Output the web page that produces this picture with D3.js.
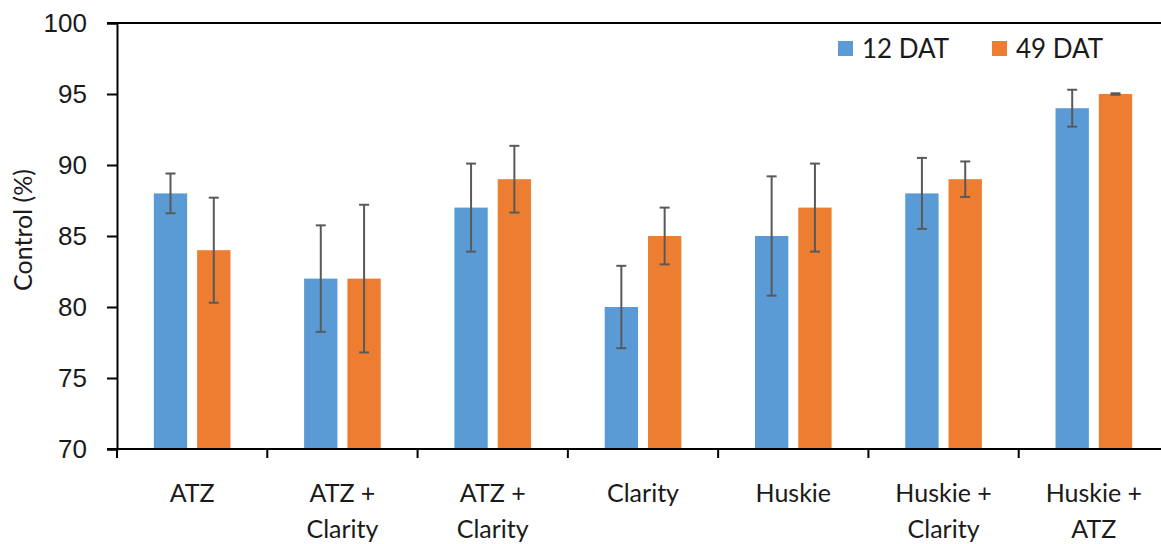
<!DOCTYPE html>
<html>
<head>
<meta charset="utf-8">
<script src="https://cdn.jsdelivr.net/npm/d3@7"></script>
<style>
  body { margin: 0; background: #fff; }
  svg { font-family: Lato, "Open Sans", sans-serif; }
</style>
</head>
<body>
<div id="chart"></div>
<script>
// data
const categories = ["ATZ", "ATZ +\nClarity", "ATZ +\nClarity", "Clarity", "Huskie", "Huskie +\nClarity", "Huskie +\nATZ"]
const series = ["12 DAT", "49 DAT"]
const dat12 = [88, 82, 87, 80, 85, 88, 94]
const dat49 = [84, 82, 89, 85, 87, 89, 95]
const err12 = [1.4, 3.75, 3.1, 2.9, 4.2, 2.5, 1.3]
const err49 = [3.7, 5.2, 2.35, 2.0, 3.1, 1.25, 0.05]
const yTicks = [70, 75, 80, 85, 90, 95, 100]
const colors = ["#5B9BD5", "#ED7D31"]

const width = 1161, height = 544
const plotLeft = 117, plotTop = 23, plotBottom = 449, plotRight = 1169

const svg = d3.select("#chart").append("svg")
    .attr("width", width)
    .attr("height", height)

const x0 = d3.scaleBand().domain(d3.range(categories.length)).range([plotLeft, plotRight])
const bw = x0.bandwidth()
const x1 = d3.scaleBand().domain(d3.range(series.length))
    .range([bw * 0.245, bw * 0.755]).paddingInner(0.23)
const y = d3.scaleLinear().domain([70, 100]).range([plotBottom, plotTop])

// bars + error bars
const rows = categories.map((c, i) => [
    { s: 0, v: dat12[i], e: err12[i] },
    { s: 1, v: dat49[i], e: err49[i] }
])
const groups = svg.selectAll("g.grp")
    .data(rows)
    .enter().append("g")
    .attr("class", "grp")
    .attr("transform", (d, i) => "translate(" + x0(i) + ",0)")

groups.selectAll("rect")
    .data(d => d)
    .enter().append("rect")
    .attr("x", d => x1(d.s))
    .attr("width", x1.bandwidth())
    .attr("y", d => y(d.v))
    .attr("height", d => y(70) - y(d.v))
    .attr("fill", d => colors[d.s])

const eb = groups.selectAll("g.err")
    .data(d => d)
    .enter().append("g")
    .attr("class", "err")
    .attr("stroke", "#595959")
    .attr("stroke-width", 2)
const cx = d => x1(d.s) + x1.bandwidth() / 2
eb.append("line")
    .attr("x1", cx).attr("x2", cx)
    .attr("y1", d => y(d.v + d.e)).attr("y2", d => y(d.v - d.e))
eb.append("line")
    .attr("x1", d => cx(d) - 5).attr("x2", d => cx(d) + 5)
    .attr("y1", d => y(d.v + d.e)).attr("y2", d => y(d.v + d.e))
eb.append("line")
    .attr("x1", d => cx(d) - 5).attr("x2", d => cx(d) + 5)
    .attr("y1", d => y(d.v - d.e)).attr("y2", d => y(d.v - d.e))

// y axis
const yAxis = svg.append("g")
    .attr("transform", "translate(" + plotLeft + ",0)")
    .call(d3.axisLeft(y).tickValues(yTicks).tickSize(10).tickPadding(20))
yAxis.select(".domain").attr("stroke", "#000").attr("stroke-width", 2)
yAxis.selectAll(".tick line").attr("stroke", "#000").attr("stroke-width", 2)
yAxis.selectAll("text").attr("font-size", 26).attr("fill", "#1a1a1a")

// top border
svg.append("line")
    .attr("x1", plotLeft - 10).attr("x2", width)
    .attr("y1", plotTop).attr("y2", plotTop)
    .attr("stroke", "#000").attr("stroke-width", 2)

// x axis
svg.append("line")
    .attr("x1", plotLeft - 10).attr("x2", width)
    .attr("y1", plotBottom).attr("y2", plotBottom)
    .attr("stroke", "#000").attr("stroke-width", 2)
svg.selectAll("line.xtick")
    .data(d3.range(categories.length + 1))
    .enter().append("line")
    .attr("class", "xtick")
    .attr("x1", i => plotLeft + i * bw).attr("x2", i => plotLeft + i * bw)
    .attr("y1", plotBottom).attr("y2", plotBottom + 9)
    .attr("stroke", "#000").attr("stroke-width", 2)

const xl = svg.selectAll("text.xl")
    .data(categories)
    .enter().append("text")
    .attr("class", "xl")
    .attr("text-anchor", "middle")
    .attr("font-size", 25)
    .attr("fill", "#1a1a1a")
    .attr("transform", (d, i) => "translate(" + (x0(i) + bw / 2) + "," + (plotBottom + 53) + ")")
xl.selectAll("tspan")
    .data(d => d.split("\n"))
    .enter().append("tspan")
    .attr("x", 0)
    .attr("dy", (d, j) => j === 0 ? 0 : 36)
    .text(d => d)

// y title
svg.append("text")
    .attr("transform", "translate(32,230) rotate(-90)")
    .attr("text-anchor", "middle")
    .attr("font-size", 25)
    .attr("fill", "#1a1a1a")
    .text("Control (%)")

// legend
const lg = svg.selectAll("g.lg")
    .data(series)
    .enter().append("g")
    .attr("class", "lg")
    .attr("transform", (d, i) => "translate(" + (838 + i * 154) + ",41)")
lg.append("rect").attr("width", 15).attr("height", 15).attr("fill", (d, i) => colors[i])
lg.append("text")
    .attr("x", 24).attr("y", 17)
    .attr("font-size", 26)
    .attr("fill", "#1a1a1a")
    .text(d => d)
</script>
</body>
</html>
